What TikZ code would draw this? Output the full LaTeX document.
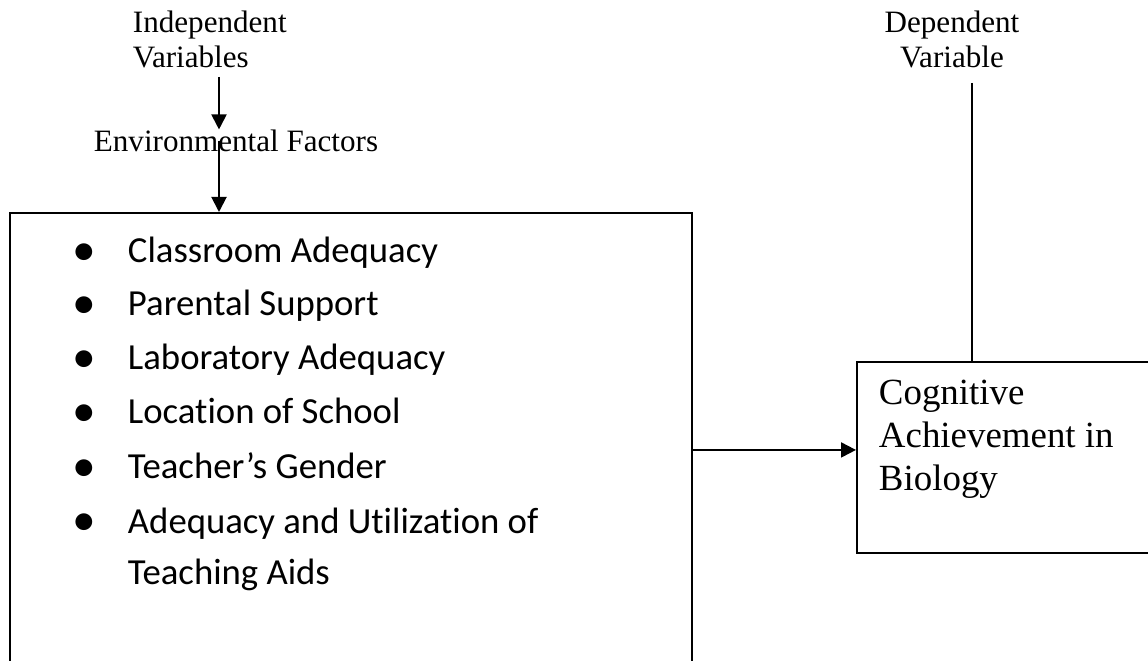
\documentclass[tikz,border=0pt]{standalone}
\usepackage{fontspec}
\setmainfont{Liberation Serif}
\newfontfamily\calibri[Ligatures=NoCommon]{Carlito}
\newcommand\itembullet{\llap{\raisebox{-1.6pt}{\fontsize{27}{27}\selectfont •}\hspace{0.63cm}}}
\usetikzlibrary{arrows.meta,positioning}

\begin{document}
\begin{tikzpicture}[x=0.02cm,y=-0.02cm,>={Triangle[length=0.3cm,width=0.3cm]},line width=1.1pt,
  varlabel/.style={inner sep=0pt,font=\fontsize{17.7}{20}\selectfont},
  factorbox/.style={draw,inner sep=0pt,minimum width=13.64cm,minimum height=10cm,anchor=north west},
  factoritem/.style={inner sep=0pt,anchor=base west,align=left,font=\calibri\fontsize{20.9}{29}\selectfont},
  outcomebox/.style={draw,inner sep=0pt,minimum width=7cm,minimum height=3.82cm,anchor=north west},
  outcometext/.style={inner sep=0pt,anchor=base west,align=left,font=\fontsize{21}{24.4}\selectfont}]
\useasboundingbox (0,0) rectangle (1148,661);
\clip (0,0) rectangle (1148,661);

% variable headings (base = last line)
\node[varlabel,anchor=base west,align=left] (ind) at (132,68) {Independent\\Variables};
\node[varlabel,anchor=base] (env) at (236,152) {Environmental Factors};
\node[varlabel,anchor=base,align=center] (dep) at (952,68) {Dependent\\Variable};

% factors
\node[factorbox] (factors) at (9,212) {};
\node[factoritem] (classroom) at (127,263) {\itembullet Classroom Adequacy};
\node[factoritem] (parental) at (127,316) {\itembullet Parental Support};
\node[factoritem] (laboratory) at (127,370) {\itembullet Laboratory Adequacy};
\node[factoritem] (location) at (127,424) {\itembullet Location of School};
\node[factoritem] (gender) at (127,479) {\itembullet Teacher’s Gender};
\node[factoritem] (aids) at (127,584) {\itembullet Adequacy and Utilization of\\Teaching Aids};

% outcome
\node[outcomebox] (outcome) at (856,361) {};
\node[outcometext] (outcomelbl) at (878,490) {Cognitive\\Achievement in\\Biology};

\coordinate (feed) at (219,77);
\coordinate (drop) at (972,83);
\coordinate (inlet) at ([yshift=0.15cm]outcome.west);
\draw[->] (feed) -- (feed |- env.north);
\draw[->] (feed |- env.center) -- (feed |- factors.north);
\draw (drop) -- (drop |- outcome.north);
\draw[->] (factors.east |- inlet) -- (inlet);
\end{tikzpicture}
\end{document}
